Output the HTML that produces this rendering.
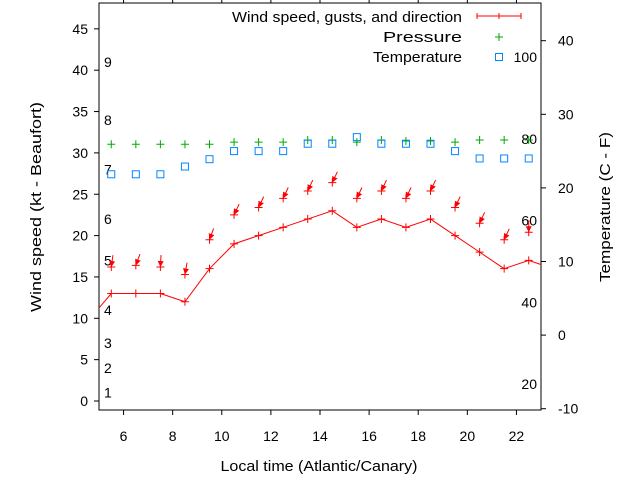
<!DOCTYPE html>
<html><head><meta charset="utf-8"><style>
html,body{margin:0;padding:0;background:#fff;}
svg{display:block;font-family:"Liberation Sans",sans-serif;}
</style></head><body>
<svg id="chart" width="640" height="480" viewBox="0 0 640 480">
<g id="g"></g>
</svg>
<script>
const hours=[4.5,5.5,6.5,7.5,8.5,9.5,10.5,11.5,12.5,13.5,14.5,15.5,16.5,17.5,18.5,19.5,20.5,21.5,22.5,23.5];
const windSpeed=[9.5,13,13,13,12,16,19,20,21,22,23,21,22,21,22,20,18,16,17,16];
const gustHours=[5.5,6.5,7.5,8.5,9.5,10.5,11.5,12.5,13.5,14.5,15.5,16.5,17.5,18.5,19.5,20.5,21.5,22.5];
const gusts=[16.2,16.4,16.2,15.3,19.5,22.5,23.4,24.5,25.4,26.4,24.5,25.4,24.5,25.4,23.4,21.5,19.5,20.4];
const windDir=[8,20,3,10,20,25,25,25,25,25,25,25,25,25,25,25,25,0];
const pressure=[31.04,31.04,31.04,31.04,31.04,31.3,31.3,31.3,31.56,31.56,31.3,31.56,31.44,31.44,31.3,31.56,31.56,31.56];
const temperature=[21.85,21.85,21.85,22.9,23.9,25,25,25,26,26,26.9,26,26,26,25,24,24,24];
const xTicks=[6,8,10,12,14,16,18,20,22];
const yTicks=[0,5,10,15,20,25,30,35,40,45];
const y2Ticks=[-10,0,10,20,30,40];
const beaufort=[[1,1],[2,4],[3,7],[4,11],[5,17],[6,22],[7,28],[8,34],[9,41]];
const fahrenheit=[20,40,60,80,100];

const L=99,R=541,T=3,B=410;
const X=v=>L+(v-5)/(23-5)*(R-L);
const Y=v=>401-v*8.27;
const Y2=v=>40.7+(40-v)*7.36;
const NS="http://www.w3.org/2000/svg";
const g=document.getElementById('g');
function mk(tag,attrs,parent){const e=document.createElementNS(NS,tag);for(const k in attrs)e.setAttribute(k,attrs[k]);(parent||g).appendChild(e);return e;}

const defs=mk('defs',{});
const cp=mk('clipPath',{id:'clip'},defs);
mk('rect',{x:L,y:T,width:R-L,height:B-T},cp);

const frame=mk('rect',{x:L,y:T,width:R-L,height:B-T,fill:'none',stroke:'#000','stroke-width':1});



xTicks.forEach(v=>{
 mk('line',{x1:X(v),x2:X(v),y1:B,y2:B+5,stroke:'#000'});
 mk('line',{x1:X(v),x2:X(v),y1:T,y2:T-5,stroke:'#000'});
 const t=mk('text',{x:X(v),y:441,'font-size':14,'text-anchor':'middle'});
 t.textContent=v;
 
 
});
yTicks.forEach(v=>{
 mk('line',{x1:L-5,x2:L,y1:Y(v),y2:Y(v),stroke:'#000'});
 const t=mk('text',{x:88,y:Y(v)+5,'font-size':14,'text-anchor':'end'});
 t.textContent=v;
 
 
});
y2Ticks.forEach(v=>{
 mk('line',{x1:R,x2:R+5,y1:Y2(v),y2:Y2(v),stroke:'#000'});
 const t=mk('text',{x:558,y:Y2(v)+5,'font-size':14,'text-anchor':'start'});
 t.textContent=v;
 
 
});
beaufort.forEach(b=>{
 const t=mk('text',{x:104,y:Y(b[1])+5,'font-size':14});
 t.textContent=b[0];
 
 
});
fahrenheit.forEach(f=>{
 const c=(f-32)*5/9;
 const t=mk('text',{x:537,y:Y2(c)+5,'font-size':14,'text-anchor':'end'});
 t.textContent=f;
 
 
});

const data=mk('g',{'clip-path':'url(#clip)'});
const pts=hours.map((h,i)=>X(h)+','+Y(windSpeed[i])).join(' ');
const wl=mk('polyline',{points:pts,fill:'none',stroke:'#f00','stroke-width':1},data);


hours.forEach((h,i)=>{
 const p=mk('path',{d:`M${X(h)-4},${Y(windSpeed[i])}h8M${X(h)},${Y(windSpeed[i])-4}v8`,stroke:'#f00'},data);
 
 
});
gustHours.forEach((h,i)=>{
 const x=X(h),y=Y(gusts[i]);
 const a=windDir[i]*Math.PI/180, len=12;
 const tx=x+Math.sin(a)*len, ty=y-Math.cos(a)*len;
 const ux=(x-tx)/len, uy=(y-ty)/len;
 const grp=mk('g',{},data);
 
 
 mk('line',{x1:tx,y1:ty,x2:x,y2:y,stroke:'#f00'},grp);
 const bx=x-ux*6,by=y-uy*6,px=-uy*3,py=ux*3;
 mk('polygon',{points:`${x},${y} ${bx+px},${by+py} ${bx-px},${by-py}`,fill:'#f00'},grp);
 mk('path',{d:`M${x-4},${y}h8M${x},${y-4}v8`,stroke:'#f00'},grp);
});
gustHours.forEach((h,i)=>{
 const x=X(h),y=Y(pressure[i]);
 const p=mk('path',{d:`M${x-4},${y}h8M${x},${y-4}v8`,stroke:'#0a0'},data);
 
 
});
gustHours.forEach((h,i)=>{
 const x=X(h),y=Y2(temperature[i]);
 const r=mk('rect',{x:x-3.5,y:y-3.5,width:7,height:7,fill:'none',stroke:'#08f','stroke-width':1},data);
 
 
});

const svg=document.getElementById('chart');
const leg=mk('g',{'font-size':15},svg);


const rowNames=['Wind speed, gusts, and direction','Pressure','Temperature'];
const rowLens=[230,79,89];
rowNames.forEach((r,i)=>{
 const t=mk('text',{x:462,y:22+i*20,'text-anchor':'end',textLength:rowLens[i],lengthAdjust:'spacingAndGlyphs'},leg);
 t.textContent=r;
 
 
});
mk('path',{d:'M477,16h44M477,13v6M521,13v6M499,13v6',stroke:'#f00'},leg);
mk('path',{d:'M495,37h8M499,33v8',stroke:'#0a0'},leg);
mk('rect',{x:495.5,y:53.5,width:7,height:7,fill:'none',stroke:'#08f'},leg);
const a=mk('text',{x:0,y:0,'font-size':15,'text-anchor':'middle',textLength:210,lengthAdjust:'spacingAndGlyphs',transform:'translate(41,207) rotate(-90)'},svg);
a.textContent='Wind speed (kt - Beaufort)';


const b=mk('text',{x:0,y:0,'font-size':15,'text-anchor':'middle',textLength:150,lengthAdjust:'spacingAndGlyphs',transform:'translate(610,207) rotate(-90)'},svg);
b.textContent='Temperature (C - F)';


const c=mk('text',{x:319,y:471,'font-size':15,'text-anchor':'middle',textLength:197,lengthAdjust:'spacingAndGlyphs'},svg);
c.textContent='Local time (Atlantic/Canary)';


</script>
</body></html>
